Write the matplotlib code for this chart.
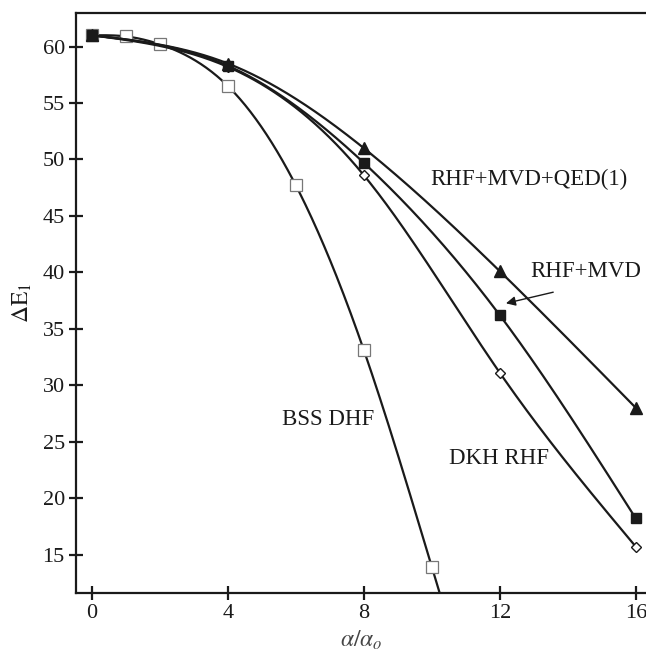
import matplotlib
matplotlib.use("Agg")
import matplotlib.pyplot as plt
import numpy as np

# relativistic corrections to Delta E_1 vs alpha/alpha_0
X_BSS = [0, 1, 2, 4, 6, 8, 10]
Y_BSS = [61.0, 60.9, 60.2, 56.5, 47.7, 33.1, 13.9]

X_REST = [0, 4, 8, 12, 16]
Y_DKH = [61.0, 58.2, 48.6, 31.1, 15.7]
Y_MVD = [61.0, 58.3, 49.7, 36.2, 18.2]
Y_QED = [61.0, 58.5, 51.0, 40.1, 28.0]

XTICKS = [0, 4, 8, 12, 16]
YTICKS = [15, 20, 25, 30, 35, 40, 45, 50, 55, 60]

plt.rcParams["font.family"] = ["Liberation Serif", "DejaVu Serif"]
plt.rcParams["mathtext.fontset"] = "stix"


def spline(xs, ys, x_end, n=400):
    # natural cubic spline through the points, last piece extended to x_end
    x = np.asarray(xs, float)
    y = np.asarray(ys, float)
    m = len(x)
    h = np.diff(x)
    A = np.zeros((m, m))
    b = np.zeros(m)
    A[0, 0] = A[-1, -1] = 1.0
    for i in range(1, m - 1):
        A[i, i - 1] = h[i - 1]
        A[i, i] = 2 * (h[i - 1] + h[i])
        A[i, i + 1] = h[i]
        b[i] = 6 * ((y[i + 1] - y[i]) / h[i] - (y[i] - y[i - 1]) / h[i - 1])
    M = np.linalg.solve(A, b)
    xx = np.linspace(x[0], x_end, n)
    idx = np.clip(np.searchsorted(x, xx) - 1, 0, m - 2)
    x0, x1 = x[idx], x[idx + 1]
    hh = x1 - x0
    t0, t1 = x1 - xx, xx - x0
    yy = (M[idx] * t0 ** 3 + M[idx + 1] * t1 ** 3) / (6 * hh) \
        + (y[idx] / hh - M[idx] * hh / 6) * t0 + (y[idx + 1] / hh - M[idx + 1] * hh / 6) * t1
    return xx, yy


fig = plt.figure(figsize=(6.46, 6.55), dpi=100)
ax = fig.add_axes([0.1176, 0.0947, 0.8824, 0.8859])

lc = "#1a1a1a"
xx, yy = spline(X_BSS, Y_BSS, 10.4)
ax.plot(xx, yy, color=lc, lw=1.6)
ax.plot(X_BSS, Y_BSS, ls="none", marker="s", ms=8, mfc="white", mec="#777777", mew=0.9)

for ys, mk, ms, fill in [(Y_DKH, "D", 5.5, "white"), (Y_MVD, "s", 7.5, lc), (Y_QED, "^", 9, lc)]:
    xx, yy = spline(X_REST, ys, 16)
    ax.plot(xx, yy, color=lc, lw=1.6)
    ax.plot(X_REST, ys, ls="none", marker=mk, ms=ms, mfc=fill, mec=lc, mew=1.0, zorder=3)

ax.text(9.95, 48.2, "RHF+MVD+QED(1)", fontsize=16.5, va="center", ha="left", color=lc)
ax.text(12.9, 40.1, "RHF+MVD", fontsize=16.5, va="center", ha="left", color=lc)
ax.text(5.6, 27.0, "BSS DHF", fontsize=16.5, va="center", ha="left", color=lc)
ax.text(10.5, 23.5, "DKH RHF", fontsize=16.5, va="center", ha="left", color=lc)
ax.annotate("", xy=(12.1, 37.2), xytext=(13.65, 38.3),
            arrowprops=dict(arrowstyle="-|>", color=lc, lw=1.0, mutation_scale=14))

ax.set_xlim(-0.47, 16.3)
ax.set_ylim(11.6, 63.0)
ax.set_xticks(XTICKS)
ax.set_yticks(YTICKS)
ax.spines["right"].set_visible(False)
for s in ["left", "bottom", "top"]:
    ax.spines[s].set_linewidth(1.6)
    ax.spines[s].set_color(lc)
ax.tick_params(direction="inout", length=10, width=1.6, labelsize=16, colors=lc, pad=3)
ax.tick_params(axis="y", right=False)

ax.set_xlabel(r"$\alpha/\alpha_o$", fontsize=17, color="#444444", labelpad=4)
ax.set_ylabel(r"$\Delta\mathrm{E}_1$", fontsize=17, color=lc, labelpad=6)

fig.savefig("out.png", dpi=100)
